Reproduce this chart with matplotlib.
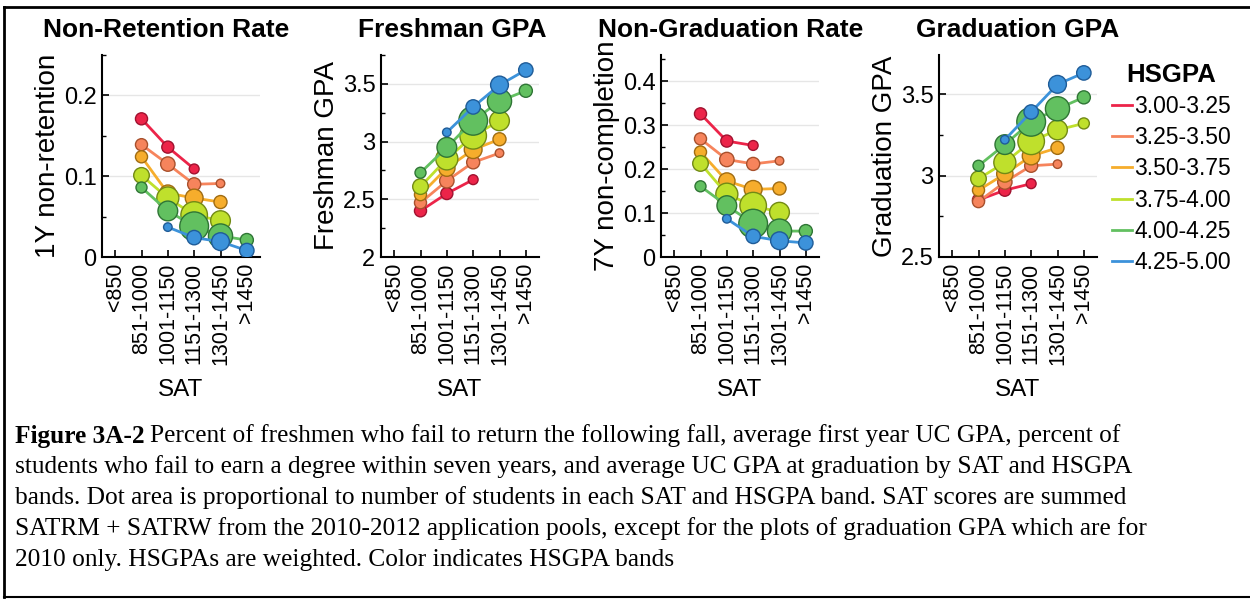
import numpy as np
import matplotlib
matplotlib.use("Agg")
import matplotlib.pyplot as plt
from matplotlib.lines import Line2D
from matplotlib.ticker import AutoMinorLocator

plt.rcParams['font.family'] = ['Liberation Sans', 'DejaVu Sans']

# SAT bands (x categories) and HSGPA bands (series)
sat_bands = ['<850', '851-1000', '1001-1150', '1151-1300', '1301-1450', '>1450']
hsgpa_bands = ['3.00-3.25', '3.25-3.50', '3.50-3.75', '3.75-4.00', '4.00-4.25', '4.25-5.00']
nan = np.nan

# 1Y non-retention, rows = HSGPA band, cols = SAT band
non_retention = [
    [nan, 0.171, 0.136, 0.109, nan, nan],
    [nan, 0.139, 0.115, 0.090, 0.091, nan],
    [nan, 0.124, 0.079, 0.073, 0.068, nan],
    [nan, 0.101, 0.073, 0.052, 0.045, nan],
    [nan, 0.086, 0.057, 0.038, 0.026, 0.021],
    [nan, nan, 0.037, 0.024, 0.019, 0.008],
]

freshman_gpa = [
    [nan, 2.40, 2.55, 2.67, nan, nan],
    [nan, 2.47, 2.66, 2.82, 2.90, nan],
    [nan, 2.54, 2.77, 2.93, 3.02, nan],
    [nan, 2.61, 2.85, 3.05, 3.18, nan],
    [nan, 2.73, 2.95, 3.18, 3.35, 3.44],
    [nan, nan, 3.08, 3.30, 3.49, 3.62],
]

non_completion = [
    [nan, 0.326, 0.264, 0.254, nan, nan],
    [nan, 0.269, 0.222, 0.212, 0.219, nan],
    [nan, 0.239, 0.173, 0.154, 0.156, nan],
    [nan, 0.213, 0.143, 0.117, 0.102, nan],
    [nan, 0.161, 0.117, 0.076, 0.059, 0.059],
    [nan, nan, 0.087, 0.047, 0.037, 0.032],
]

graduation_gpa = [
    [nan, 2.85, 2.91, 2.95, nan, nan],
    [nan, 2.84, 2.96, 3.06, 3.07, nan],
    [nan, 2.91, 3.01, 3.12, 3.17, nan],
    [nan, 2.98, 3.08, 3.21, 3.28, 3.32],
    [nan, 3.06, 3.19, 3.33, 3.41, 3.48],
    [nan, nan, 3.22, 3.39, 3.56, 3.63],
]

# relative number of students per SAT/HSGPA cell (dot area)
students = [
    [0, 12, 12, 8, 0, 0],
    [0, 12, 17, 14, 6, 0],
    [0, 12, 22, 26, 14, 0],
    [0, 20, 40, 58, 32, 10],
    [0, 10, 32, 68, 48, 14],
    [0, 0, 6, 17, 26, 17],
]

face_colors = ['#ec2449', '#f6845c', '#f6ad2c', '#bfe02c', '#62c060', '#3c92da']
edge_colors = ['#a0122f', '#a8502c', '#a06c12', '#728a14', '#2f7535', '#1f5c98']

panels = [
    ('Non-Retention Rate', '1Y non-retention', non_retention, (0, 0.25), [0, 0.1, 0.2], ['0', '0.1', '0.2']),
    ('Freshman GPA', 'Freshman GPA', freshman_gpa, (2, 3.75), [2, 2.5, 3, 3.5], ['2', '2.5', '3', '3.5']),
    ('Non-Graduation Rate', '7Y non-completion', non_completion, (0, 0.46), [0, 0.1, 0.2, 0.3, 0.4],
     ['0', '0.1', '0.2', '0.3', '0.4']),
    ('Graduation GPA', 'Graduation GPA', graduation_gpa, (2.5, 3.74), [2.5, 3, 3.5], ['2.5', '3', '3.5']),
]

W, H = 1250, 609
fig = plt.figure(figsize=(W / 100, H / 100), dpi=100)

lefts = [102, 381, 661, 939]
title_centers = [166, 452, 731, 1018]
ax_w, ax_top, ax_bot = 158, 55, 257
x = np.arange(1, len(sat_bands) + 1)

for (title, ylab, vals, ylim, yt, ytl), lp, tc in zip(panels, lefts, title_centers):
    ax = fig.add_axes([lp / W, 1 - ax_bot / H, ax_w / W, (ax_bot - ax_top) / H])
    for i in range(len(hsgpa_bands)):
        y = np.array(vals[i], dtype=float)
        ok = ~np.isnan(y)
        ax.plot(x[ok], y[ok], '-', color=face_colors[i], lw=2, zorder=2 + 2 * i)
        ax.scatter(x[ok], y[ok], s=np.array(students[i])[ok] * 6.3,
                   color=face_colors[i], edgecolors=edge_colors[i], linewidths=1,
                   zorder=3 + 2 * i)
    ax.set_xlim(0.5, 6.5)
    ax.set_ylim(*ylim)
    ax.set_xticks(x)
    ax.set_xticklabels(sat_bands, rotation=90, fontsize=15.5)
    ax.set_yticks(yt)
    ax.set_yticklabels(ytl, fontsize=17)
    ax.yaxis.set_minor_locator(AutoMinorLocator(2))
    ax.tick_params(direction='in', length=5, width=1.2, pad=4)
    ax.tick_params(which='minor', direction='in', length=3, width=1)
    ax.grid(axis='y', color='#e6e6e6', lw=1)
    ax.set_axisbelow(True)
    for s in ['top', 'right']:
        ax.spines[s].set_visible(False)
    for s in ['left', 'bottom']:
        ax.spines[s].set_linewidth(1.5)
    ax.set_xlabel('SAT', fontsize=17.5, labelpad=10)
    ax.set_ylabel(ylab, fontsize=20, labelpad=2)
    ax.set_title(title, fontsize=19, fontweight='bold', pad=13, x=(tc - lp) / ax_w)

handles = [Line2D([0], [0], color=c, lw=2) for c in face_colors]
leg = fig.legend(handles, hsgpa_bands, loc='upper left', bbox_to_anchor=(1091 / W, 1 - 42 / H),
                 frameon=False, fontsize=16.5, handlelength=0.9, handletextpad=0.1,
                 labelspacing=0.36, title='HSGPA', title_fontproperties={'weight': 'bold', 'size': 18.5})

# caption
cap_lines = [
    'Percent of freshmen who fail to return the following fall, average first year UC GPA, percent of',
    'students who fail to earn a degree within seven years, and average UC GPA at graduation by SAT and HSGPA',
    'bands. Dot area is proportional to number of students in each SAT and HSGPA band. SAT scores are summed',
    'SATRM + SATRW from the 2010-2012 application pools, except for the plots of graduation GPA which are for',
    '2010 only. HSGPAs are weighted. Color indicates HSGPA bands',
]
cap_y = [436, 467, 498, 529, 560]
serif = ['Liberation Serif', 'DejaVu Serif']
cap_size = 18.3
renderer = fig.canvas.get_renderer()
for k, (line, yy) in enumerate(zip(cap_lines, cap_y)):
    x0 = 15 / W
    if k == 0:
        t = fig.text(x0, 1 - yy / H, 'Figure 3A-2', family=serif, fontsize=cap_size,
                     fontweight='bold', va='center')
        bb = t.get_window_extent(renderer)
        x0 = (bb.x1 + 5) / W
    fig.text(x0, 1 - yy / H, line, family=serif, fontsize=cap_size, va='center')

# frame around figure panel
fig.add_artist(Line2D([4 / W, 4 / W], [1 - 597 / H, 1 - 7 / H], color='black', lw=2))
fig.add_artist(Line2D([4 / W, 1], [1 - 7 / H, 1 - 7 / H], color='black', lw=2))
fig.add_artist(Line2D([4 / W, 1], [1 - 597 / H, 1 - 597 / H], color='black', lw=1.5))

fig.savefig('out.png', dpi=100)
